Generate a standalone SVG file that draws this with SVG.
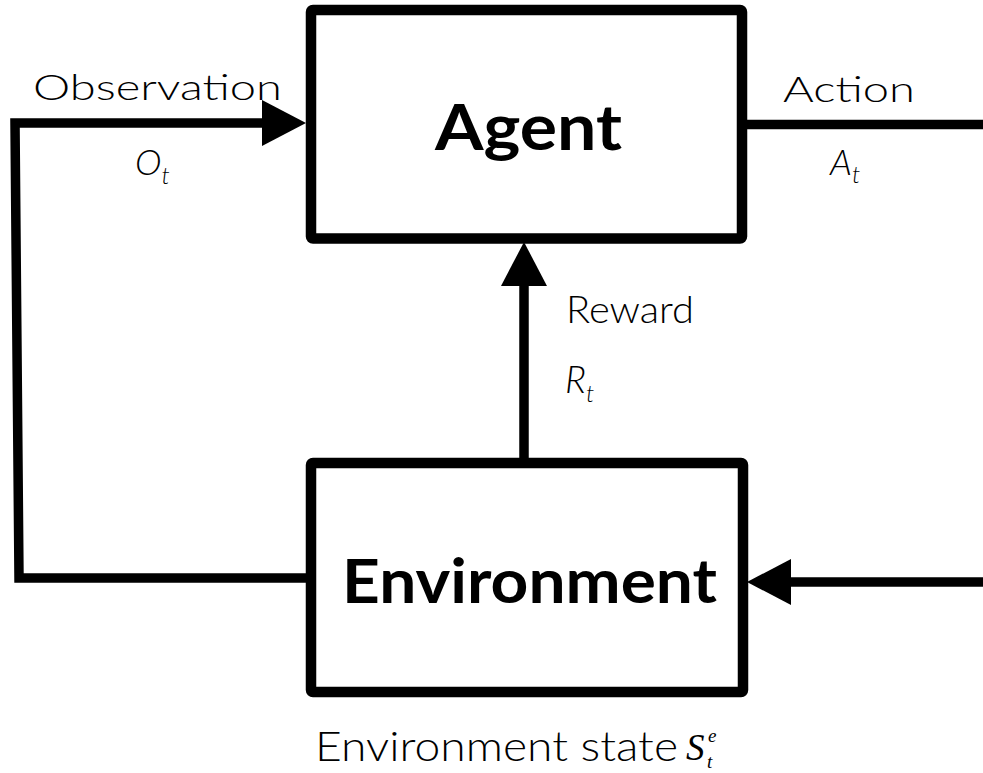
<svg xmlns="http://www.w3.org/2000/svg" width="983" height="773" viewBox="0 0 983 773">
  <style>
    .box { fill: #ffffff; stroke: #000000; stroke-width: 10.5; stroke-linejoin: round; }
    .wire { fill: none; stroke: #000000; stroke-width: 9.5; stroke-linejoin: miter; }
    .title { font-family: "Lato", "DejaVu Sans", sans-serif; font-weight: bold; fill: #000000; }
    .label { font-family: "Lato", "DejaVu Sans", sans-serif; font-weight: 300; fill: #000000; }
    .sym { font-family: "Lato", "DejaVu Sans", sans-serif; font-weight: 300; font-style: italic; fill: #000000; }
    .math { font-family: "Liberation Serif", "DejaVu Serif", serif; font-style: italic; font-weight: normal; fill: #000000; }
  </style>
  <defs>
    <marker id="head" markerUnits="userSpaceOnUse" markerWidth="46" markerHeight="46" refX="0" refY="23" orient="auto" viewBox="0 0 44 46">
      <path d="M0,0 L44,23 L0,46 Z" fill="#000000"/>
    </marker>
  </defs>

  <rect width="983" height="773" fill="#ffffff"/>

  <!-- connectors -->
  <g id="connectors">
    <!-- observation loop: environment left side back round to the agent -->
    <path class="wire" d="M311,578 L19,578 L15,123 L262,123" marker-end="url(#head)"/>
    <!-- action: leaves the agent to the right -->
    <path class="wire" d="M742,124.5 L983,124.5"/>
    <!-- reward: environment up to the agent -->
    <path class="wire" d="M524,463 L524,286" marker-end="url(#head)"/>
    <!-- action arriving at the environment from the right -->
    <path class="wire" d="M983,582 L791,582" marker-end="url(#head)"/>

    <text class="label" x="33" y="100" font-size="36" textLength="249" lengthAdjust="spacingAndGlyphs">Observation</text>
    <text class="sym" x="135" y="175" font-size="36">O<tspan font-size="24" dy="9">t</tspan></text>

    <text class="label" x="783" y="102" font-size="36" textLength="132" lengthAdjust="spacingAndGlyphs">Action</text>
    <text class="sym" x="830" y="175" font-size="36">A<tspan font-size="24" dy="8">t</tspan></text>

    <text class="label" x="566" y="323" font-size="38" textLength="128" lengthAdjust="spacingAndGlyphs">Reward</text>
    <text class="sym" x="565" y="393" font-size="37">R<tspan font-size="24" dy="9">t</tspan></text>
  </g>

  <g id="agent">
    <rect class="box" x="311" y="10" width="431" height="228.5" rx="2"/>
    <text class="title" x="435" y="150" font-size="64" textLength="187" lengthAdjust="spacingAndGlyphs">Agent</text>
  </g>

  <g id="environment">
    <rect class="box" x="311" y="463" width="432" height="229" rx="2"/>
    <text class="title" x="342" y="603" font-size="62" textLength="375" lengthAdjust="spacingAndGlyphs">Environment</text>
  </g>

  <g id="environment-state">
    <text class="label" x="315" y="761" font-size="41" textLength="363" lengthAdjust="spacingAndGlyphs">Environment state</text>
    <!-- S with superscript e and subscript t stacked -->
    <text class="math" x="686" y="760" font-size="37">S<tspan x="708" y="742" font-size="19">e</tspan><tspan x="707" y="768" font-size="19">t</tspan></text>
  </g>
</svg>
